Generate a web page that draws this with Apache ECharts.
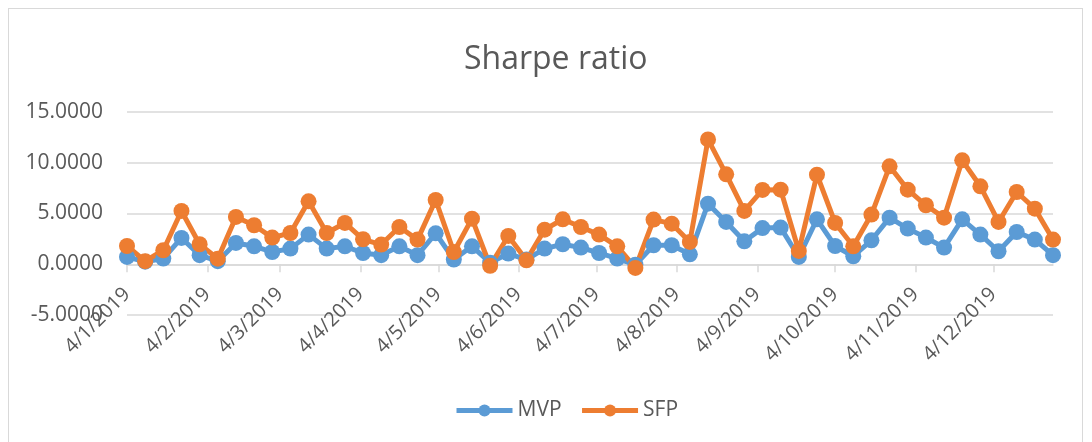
<!DOCTYPE html>
<html>
<head>
<meta charset="utf-8">
<script src="https://cdn.jsdelivr.net/npm/echarts@6/dist/echarts.min.js"></script>
<style>
  html, body { margin: 0; padding: 0; background: #fff; }
  #frame { position: absolute; left: 8px; top: 8px; width: 1075px; height: 440px; border: 1px solid #d9d9d9; box-sizing: border-box; }
  #chart { position: absolute; left: 0; top: 0; width: 1092px; height: 442px; }
</style>
</head>
<body>
<div id="frame"></div>
<div id="chart"></div>
<script>
// weekly observation dates
const dates = [
  "2019-01-04", "2019-01-11", "2019-01-18", "2019-01-25",
  "2019-02-01", "2019-02-08", "2019-02-15", "2019-02-22",
  "2019-03-01", "2019-03-08", "2019-03-15", "2019-03-22", "2019-03-29",
  "2019-04-05", "2019-04-12", "2019-04-19", "2019-04-26",
  "2019-05-03", "2019-05-10", "2019-05-17", "2019-05-24", "2019-05-31",
  "2019-06-07", "2019-06-14", "2019-06-21", "2019-06-28",
  "2019-07-05", "2019-07-12", "2019-07-19", "2019-07-26",
  "2019-08-02", "2019-08-09", "2019-08-16", "2019-08-23", "2019-08-30",
  "2019-09-06", "2019-09-13", "2019-09-20", "2019-09-27",
  "2019-10-04", "2019-10-11", "2019-10-18", "2019-10-25",
  "2019-11-01", "2019-11-08", "2019-11-15", "2019-11-22", "2019-11-29",
  "2019-12-06", "2019-12-13", "2019-12-20", "2019-12-27"
];

const mvp = [
  0.72, 0.25, 0.56, 2.59, 0.89, 0.30, 2.10, 1.77, 1.21, 1.54, 2.92, 1.54, 1.77,
  1.11, 0.89, 1.77, 0.89, 3.05, 0.46, 1.77, 0.15, 1.05, 0.46, 1.54, 1.97, 1.64,
  1.11, 0.56, -0.05, 1.87, 1.87, 0.98, 5.97, 4.17, 2.26, 3.56, 3.61, 0.72, 4.43,
  1.80, 0.79, 2.36, 4.59, 3.51, 2.63, 1.64, 4.43, 2.92, 1.28, 3.18, 2.43, 0.89
];

const sfp = [
  1.80, 0.30, 1.38, 5.25, 1.97, 0.55, 4.66, 3.84, 2.63, 3.08, 6.20, 3.08, 4.07,
  2.46, 1.94, 3.67, 2.43, 6.33, 1.21, 4.49, -0.16, 2.79, 0.39, 3.41, 4.43, 3.67,
  2.92, 1.77, -0.36, 4.40, 4.00, 2.20, 12.30, 8.86, 5.25, 7.32, 7.35, 1.31, 8.83,
  4.07, 1.77, 4.89, 9.65, 7.35, 5.81, 4.59, 10.24, 7.68, 4.17, 7.12, 5.48, 2.43
];

// month ticks, shown as d/m/yyyy
const tickDates = [
  "2019-01-04", "2019-02-04", "2019-03-04", "2019-04-04", "2019-05-04", "2019-06-04",
  "2019-07-04", "2019-08-04", "2019-09-04", "2019-10-04", "2019-11-04", "2019-12-04"
];

const toTime = (s) => {
  const p = s.split("-").map(Number);
  return new Date(p[0], p[1] - 1, p[2]).getTime();
};

const fmtDate = (t) => {
  const d = new Date(t);
  return d.getDate() + "/" + (d.getMonth() + 1) + "/" + d.getFullYear();
};

const font = "'Open Sans', 'Noto Sans', sans-serif";
const textColor = "#595959";
const gridColor = "#d9d9d9";

const tickTimes = tickDates.map(toTime);

const chart = echarts.init(document.getElementById("chart"));

const makeSeries = (name, values, color) => ({
  name: name,
  type: "line",
  data: dates.map((d, i) => [toTime(d), values[i]]),
  symbol: "circle",
  symbolSize: 16,
  lineStyle: { width: 5, color: color },
  itemStyle: { color: color },
});

chart.setOption({
  animation: false,
  title: {
    text: "Sharpe ratio",
    left: 459,
    top: 39,
    textStyle: { fontFamily: font, fontSize: 32, fontWeight: "normal", color: textColor },
  },
  legend: {
    left: 449,
    top: 395,
    itemWidth: 56,
    itemHeight: 15,
    itemGap: 18,
    data: ["MVP", "SFP"],
    lineStyle: { width: 5 },
    textStyle: { fontFamily: font, fontSize: 21, color: textColor },
  },
  grid: {
    left: 127,
    right: 39,
    top: 112,
    bottom: 127,
    containLabel: false,
  },
  xAxis: {
    type: "value",
    min: toTime(dates[0]),
    max: toTime(dates[dates.length - 1]),
    // axis sits on the zero line of the y axis
    offset: -50.75,
    axisLine: { onZero: false, lineStyle: { color: gridColor, width: 1.5 } },
    axisTick: { show: true, length: 8, customValues: tickTimes, lineStyle: { color: gridColor, width: 1.5 } },
    axisLabel: {
      customValues: tickTimes,
      rotate: 45,
      margin: 27,
      fontFamily: font,
      fontSize: 20,
      color: textColor,
      formatter: (v) => fmtDate(v),
    },
    splitLine: { show: false },
  },
  yAxis: {
    type: "value",
    min: -5,
    max: 15,
    interval: 5,
    axisLine: { show: false },
    axisTick: { show: false },
    axisLabel: {
      margin: 24,
      fontFamily: font,
      fontSize: 21,
      color: textColor,
      formatter: (v) => v.toFixed(4),
    },
    splitLine: { lineStyle: { color: gridColor, width: 1.5 } },
  },
  series: [
    makeSeries("MVP", mvp, "#5b9bd5"),
    makeSeries("SFP", sfp, "#ed7d31"),
  ],
});

window.addEventListener("resize", () => chart.resize());
</script>
</body>
</html>
